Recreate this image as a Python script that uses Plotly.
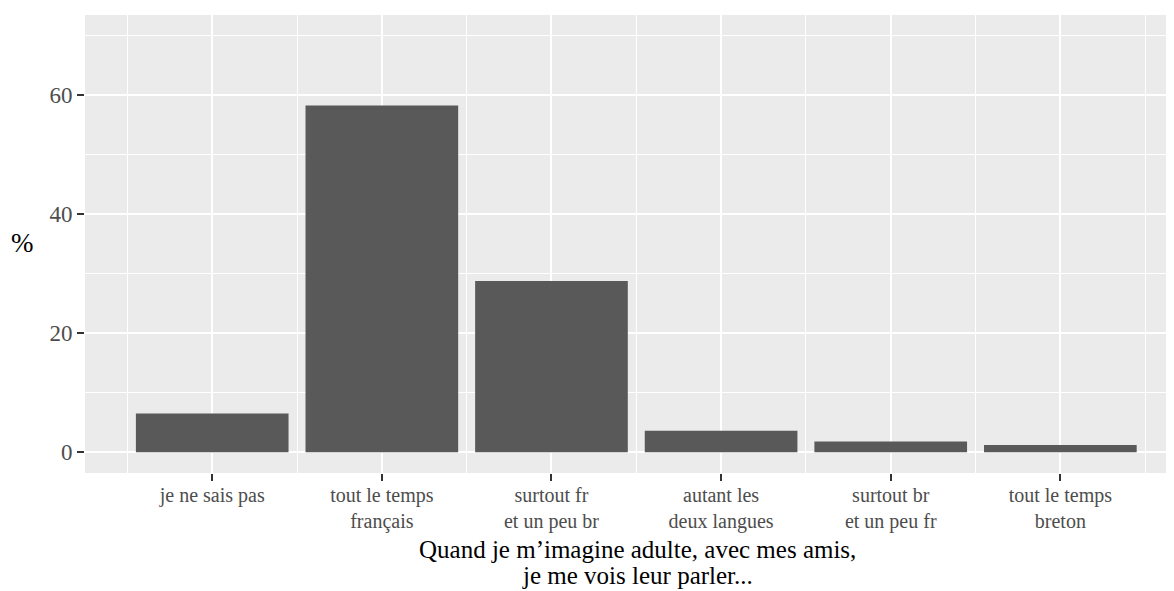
import plotly.graph_objects as go

categories = ["je ne sais pas", "tout le temps<br>français", "surtout fr<br>et un peu br",
              "autant les<br>deux langues", "surtout br<br>et un peu fr", "tout le temps<br>breton"]
values = [6.5, 58.3, 28.8, 3.6, 1.8, 1.2]
y_ticks = [0, 20, 40, 60]
y_minor = [10, 30, 50, 70]
x_title_lines = ["Quand je m\u2019imagine adulte, avec mes amis,", "je me vois leur parler..."]
y_title = "%"

positions = list(range(1, len(categories) + 1))
x_minor = [p - 0.5 for p in positions] + [positions[-1] + 0.5]

# page has an 8px body margin; figure is sized so it fills the window exactly
OFF = 8
W, H = 1174 - OFF, 591 - OFF
ml, mr, mt, mb = 85 - OFF, 0, 15 - OFF, 118
FONT = "Liberation Serif"

fig = go.Figure()
fig.add_trace(go.Bar(x=positions, y=values, width=0.9,
                     marker=dict(color="#595959", line=dict(width=0)),
                     hoverinfo="skip"))

fig.update_layout(
    width=W, height=H,
    margin=dict(l=ml, r=mr, t=mt, b=mb, pad=0, autoexpand=False),
    paper_bgcolor="white", plot_bgcolor="#EBEBEB",
    showlegend=False,
    font=dict(family=FONT, color="#4D4D4D", size=20),
)
fig.update_xaxes(
    range=[0.25, 6.67], tickmode="array", tickvals=positions, ticktext=categories,
    showgrid=True, gridcolor="white", gridwidth=2, automargin=False,
    ticks="outside", ticklen=7, tickwidth=2, tickcolor="#333333",
    tickfont=dict(family=FONT, size=20, color="#4D4D4D"),
    ticklabelstandoff=-3,
    minor=dict(tickvals=x_minor, showgrid=True, gridcolor="white", gridwidth=1, ticklen=0),
    zeroline=False, showline=False,
)
fig.update_yaxes(
    range=[-3.5, 73.5], tickmode="array", tickvals=y_ticks,
    showgrid=True, gridcolor="white", gridwidth=2, automargin=False,
    ticks="outside", ticklen=7, tickwidth=2, tickcolor="#333333",
    tickfont=dict(family=FONT, size=23, color="#4D4D4D"),
    minor=dict(tickvals=y_minor, showgrid=True, gridcolor="white", gridwidth=1, ticklen=0),
    zeroline=False, showline=False,
)

plot_w = W - ml - mr
plot_h = H - mt - mb


def px_x(page_x):
    return (page_x - OFF - ml) / plot_w


def px_y(page_y):
    return (H - mb - (page_y - OFF)) / plot_h


fig.add_annotation(text=y_title, xref="paper", yref="paper",
                   x=px_x(22), y=px_y(243),
                   xanchor="center", yanchor="middle", showarrow=False,
                   font=dict(family=FONT, size=27, color="black"))
for i, line in enumerate(x_title_lines):
    fig.add_annotation(text=line, xref="paper", yref="paper",
                       x=px_x(637), y=px_y(549 + 26 * i),
                       xanchor="center", yanchor="middle", showarrow=False,
                       font=dict(family=FONT, size=25, color="black"))

fig.write_html("out.html")
